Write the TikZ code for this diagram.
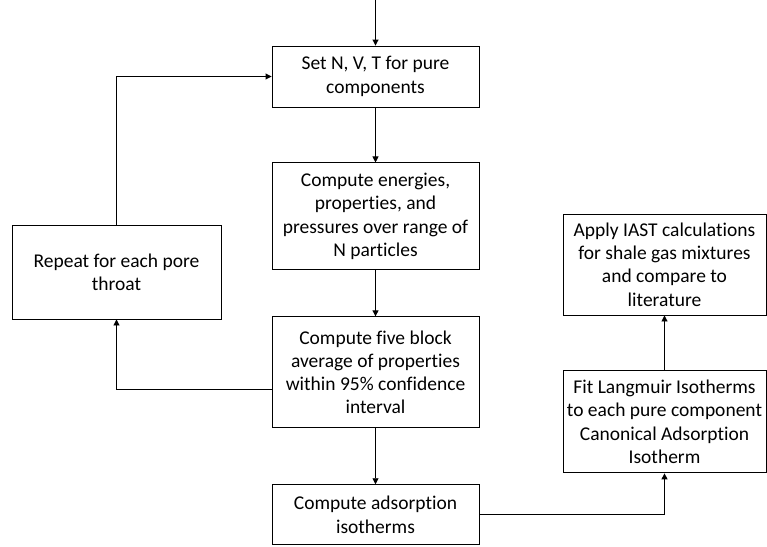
\documentclass[tikz,border=0pt]{standalone}
\usepackage{fontspec}
\setmainfont{Carlito}[Ligatures=NoCommon]
\usetikzlibrary{positioning,arrows.meta}

\tikzset{
  procbox/.style={draw, line width=0.9pt, align=center, inner sep=1pt,
    minimum width=207pt,
    font=\fontsize{19.5}{23.3}\selectfont},
  flow/.style={-{Triangle[length=6pt,width=6pt]}, line width=0.9pt}
}

\begin{document}
\begin{tikzpicture}[x=1pt,y=1pt]
	  \useasboundingbox (0,0) rectangle (767,-546);
	  \coordinate (start) at (375.5,0);
	  \node[procbox, minimum height=61pt] (setnvt) at (375.5,-76.5) {Set N, V, T for pure\\components};
	  \node[procbox, minimum height=107pt, below=55pt of setnvt] (energies) {Compute energies,\\properties, and\\pressures over range of\\N particles};
	  \node[procbox, minimum height=111pt, below=46pt of energies] (blockavg) {Compute five block\\average of properties\\within 95\% confidence\\interval};
	  \node[procbox, minimum height=60pt, below=56pt of blockavg] (isotherms) {Compute adsorption\\isotherms};
	  \node[procbox, minimum width=209pt, minimum height=94pt] (repeat) at (116.5,-272) {Repeat for each pore\\throat};
	  \node[procbox, minimum width=203pt, minimum height=101pt] (iast) at (664.5,-264.5) {Apply IAST calculations\\for shale gas mixtures\\and compare to\\literature};
	  \node[procbox, minimum width=203pt, minimum height=102pt, below=55pt of iast] (langmuir) {Fit Langmuir Isotherms\\to each pure component\\Canonical Adsorption\\Isotherm};

	  \draw[flow] (start) -- (setnvt);
	  \draw[flow] (setnvt) -- (energies);
	  \draw[flow] (energies) -- (blockavg);
	  \draw[flow] (blockavg) -- (isotherms);
	  \draw[flow] ([yshift=-17pt]blockavg.west) -| (repeat.south);
	  \draw[flow] (repeat.north) |- (setnvt.west);
	  \draw[flow] (isotherms.east) -| (langmuir.south);
	  \draw[flow] (langmuir) -- (iast);
\end{tikzpicture}
\end{document}
